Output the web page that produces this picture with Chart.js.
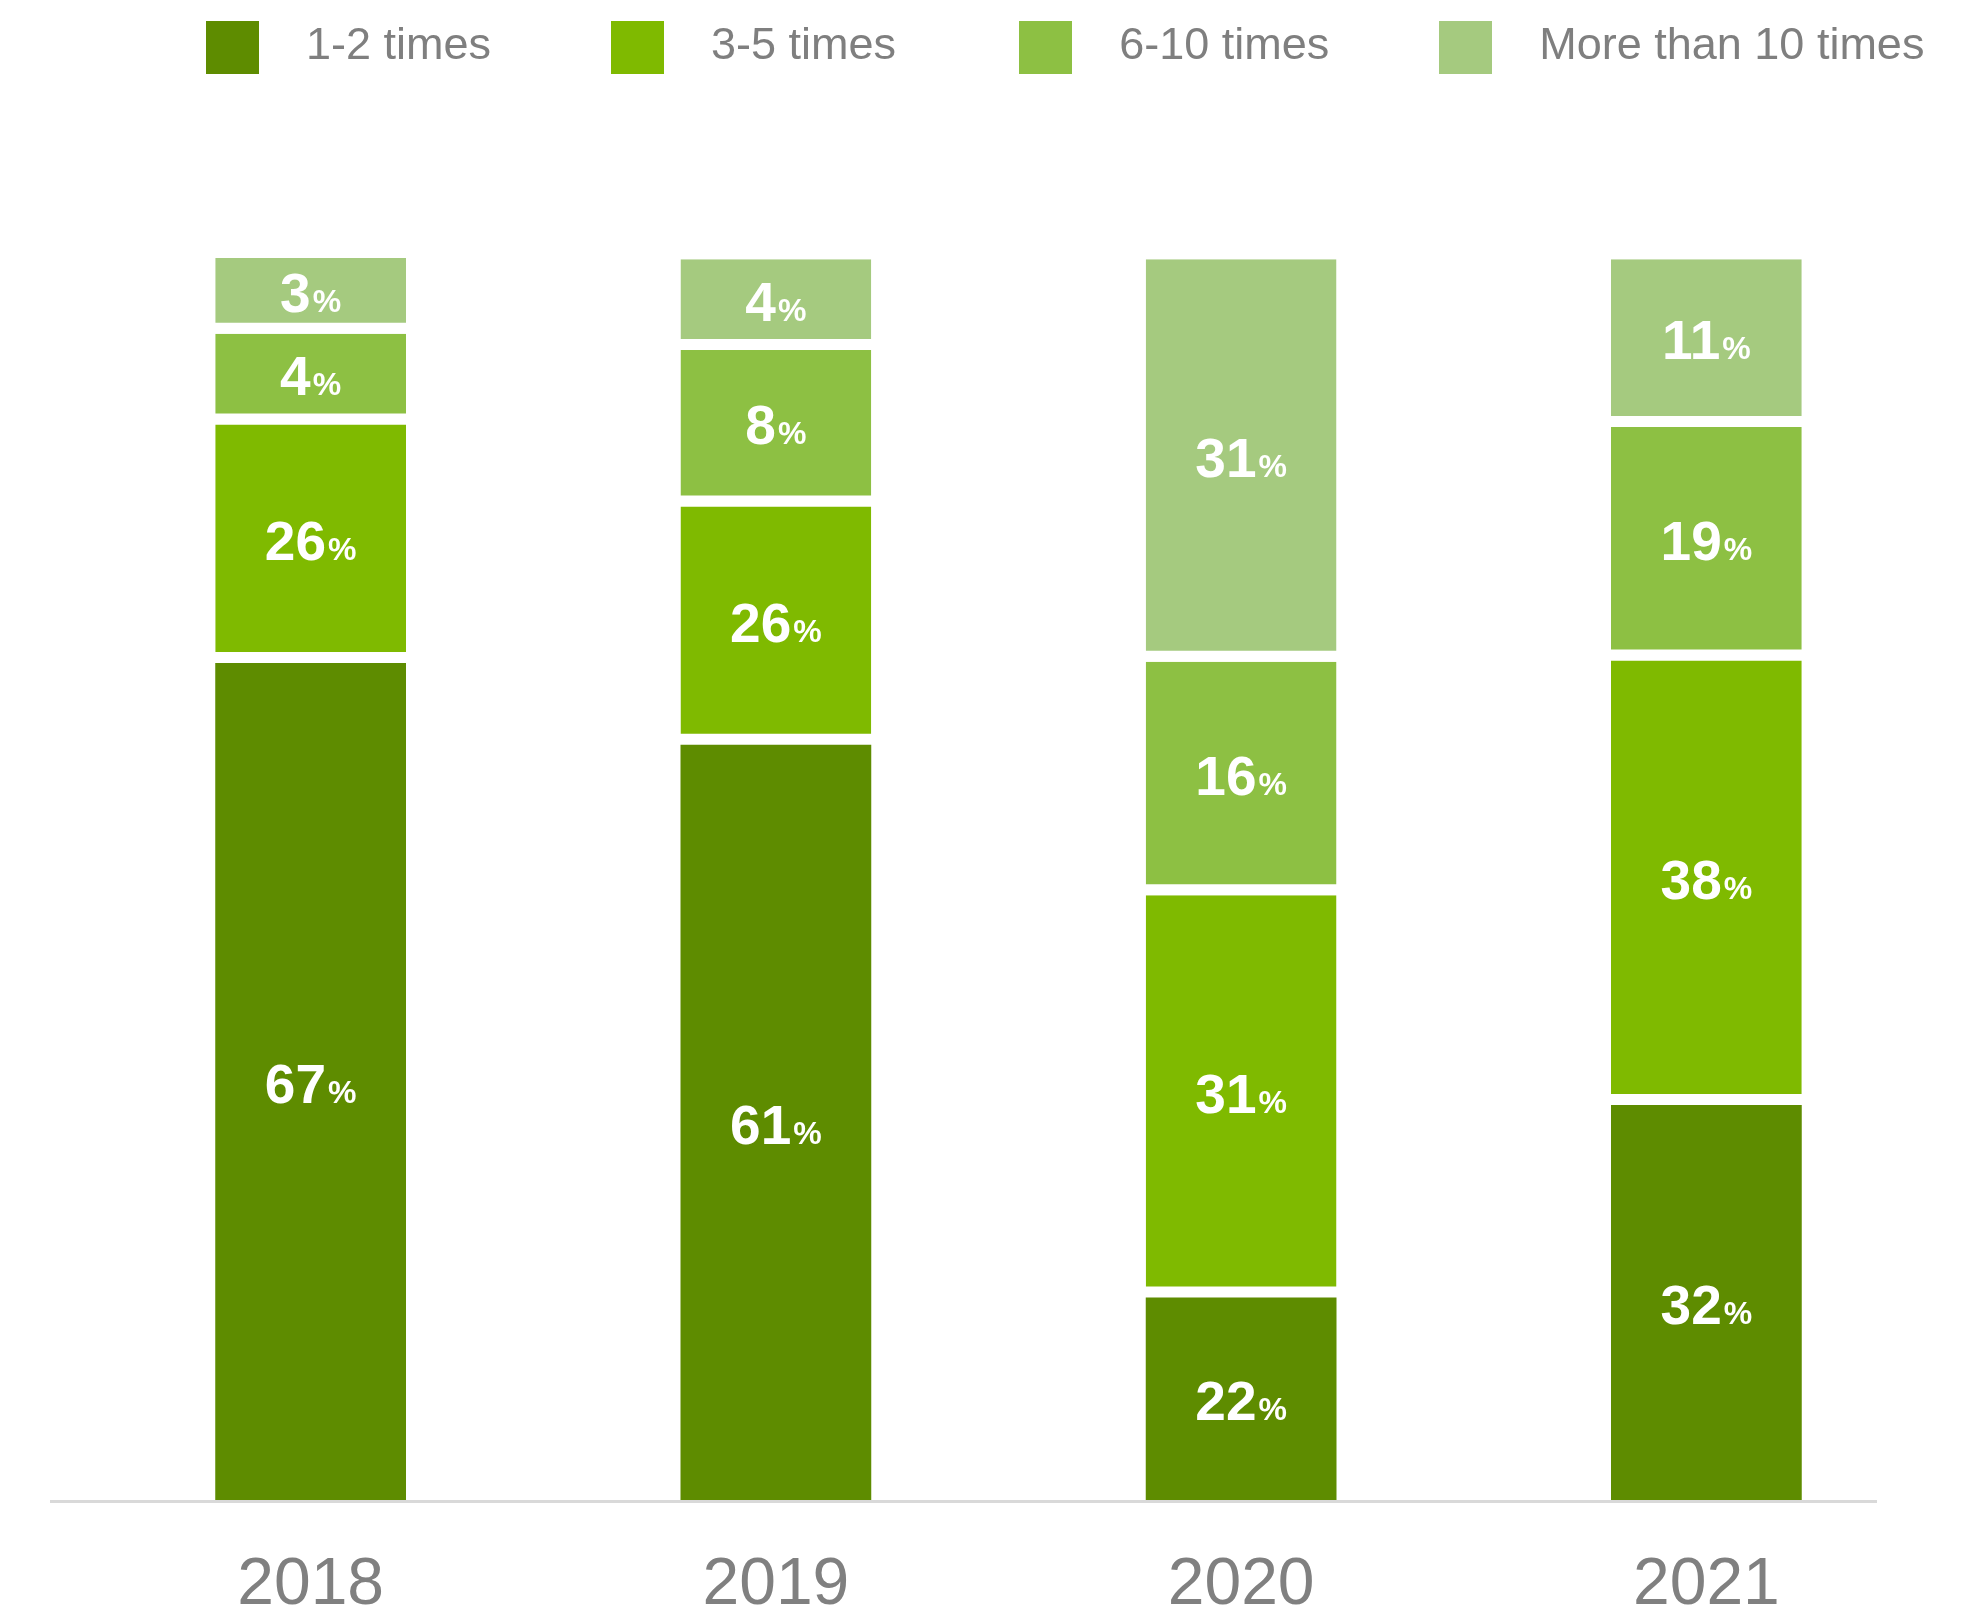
<!DOCTYPE html>
<html>
<head>
<meta charset="utf-8">
<script src="https://cdn.jsdelivr.net/npm/chart.js@4.4.1/dist/chart.umd.min.js"></script>
<style>
  body { margin: 0; background: #fff; }
  .wrap { position: relative; width: 1972px; height: 1615px; }
  .legend {
    position: absolute; top: 21px; left: 206px;
    display: flex; align-items: center;
    font-family: "Liberation Sans", Arial, sans-serif; font-size: 45px; color: #7f7f7f;
  }
  .legend .item { display: flex; align-items: center; margin-right: 120px; }
  .legend .item:nth-child(2) { margin-right: 123px; }
  .legend .item:nth-child(3) { margin-right: 110px; }
  .legend .box { width: 53px; height: 53px; }
  .legend .txt { margin-left: 47px; line-height: 53px; position: relative; top: -4px; white-space: nowrap; }
</style>
</head>
<body>
<div class="wrap">
  <canvas id="myChart"></canvas>
  <div class="legend" id="legend"></div>
</div>
<script>
const years = ['2018', '2019', '2020', '2021'];
const seriesNames = ['1-2 times', '3-5 times', '6-10 times', 'More than 10 times'];
const seriesColors = ['#5e8c00', '#7fba00', '#8dc043', '#a5ca7f'];

// shares printed on the bars
const pct12 = [67, 61, 22, 32];
const pct35 = [26, 26, 31, 38];
const pct610 = [4, 8, 16, 19];
const pct10plus = [3, 4, 31, 11];

// segment heights as drawn in the original (share of the full bar)
const h12 = [67.4, 60.8, 16.3, 31.8];
const h35 = [19.2, 19.2, 32.4, 35.8];
const h610 = [7.3, 12.6, 18.8, 18.8];
const h10plus = [6.1, 7.3, 32.4, 13.5];

const heights = [h12, h35, h610, h10plus];
const labelsPct = [pct12, pct35, pct610, pct10plus];
const GAP = 11;

// html legend
const legendEl = document.getElementById('legend');
seriesNames.forEach((name, i) => {
  const it = document.createElement('div');
  it.className = 'item';
  it.innerHTML = '<div class="box" style="background:' + seriesColors[i] + '"></div><span class="txt">' + name + '</span>';
  legendEl.appendChild(it);
});

const data = {
  labels: years,
  datasets: seriesNames.map((name, i) => ({
    label: name,
    data: heights[i],
    backgroundColor: seriesColors[i],
    borderColor: '#ffffff',
    borderWidth: { top: 0, left: 0, right: 0, bottom: i > 0 ? GAP : 0 },
    borderSkipped: false,
    barPercentage: 0.41,
    categoryPercentage: 1.0,
  }))
};

const axisLine = {
  id: 'axisLine',
  beforeDatasetsDraw(chart) {
    const { ctx, chartArea } = chart;
    ctx.save();
    ctx.strokeStyle = '#d9d9d9';
    ctx.lineWidth = 3;
    ctx.beginPath();
    ctx.moveTo(chartArea.left - 28, chartArea.bottom + 1.5);
    ctx.lineTo(chartArea.right - 62, chartArea.bottom + 1.5);
    ctx.stroke();
    ctx.restore();
  }
};

const barLabels = {
  id: 'barLabels',
  afterDatasetsDraw(chart) {
    const ctx = chart.ctx;
    ctx.save();
    ctx.fillStyle = '#ffffff';
    ctx.textBaseline = 'alphabetic';
    ctx.textAlign = 'left';
    chart.data.datasets.forEach((ds, d) => {
      const meta = chart.getDatasetMeta(d);
      meta.data.forEach((bar, i) => {
        const top = bar.y;
        const bottom = bar.base - (d > 0 ? GAP : 0);
        const mid = (top + bottom) / 2;
        const num = String(labelsPct[d][i]);
        const bigFont = 'bold 55px "Liberation Sans", Arial, sans-serif';
        const smallFont = 'bold 32px "Liberation Sans", Arial, sans-serif';
        ctx.font = bigFont;
        const w1 = ctx.measureText(num).width;
        ctx.font = smallFont;
        const w2 = ctx.measureText('%').width;
        const x0 = bar.x - (w1 + 2 + w2) / 2;
        const base = mid + 55 * 0.716 / 2 + 2;
        ctx.font = bigFont;
        ctx.fillText(num, x0, base);
        ctx.font = smallFont;
        ctx.fillText('%', x0 + w1 + 2, base);
      });
    });
    ctx.restore();
  }
};

const ctx = document.getElementById('myChart').getContext('2d');
const myChart = new Chart(ctx, {
  type: 'bar',
  data: data,
  options: {
    responsive: true,
    maintainAspectRatio: false,
    animation: false,
    layout: { padding: { left: 78, right: 33, top: 258, bottom: 0 } },
    plugins: {
      legend: { display: false },
      tooltip: { enabled: false },
    },
    scales: {
      x: {
        stacked: true,
        grid: { display: false, drawTicks: false },
        border: { display: false },
        ticks: {
          color: '#808080',
          padding: 53,
          font: { size: 66, family: '"Liberation Sans", Arial, sans-serif', lineHeight: 1 }
        },
        afterFit(scale) { scale.height = 115; }
      },
      y: {
        stacked: true,
        min: 0,
        max: 100,
        display: false,
      }
    }
  },
  plugins: [axisLine, barLabels]
});
</script>
</body>
</html>
